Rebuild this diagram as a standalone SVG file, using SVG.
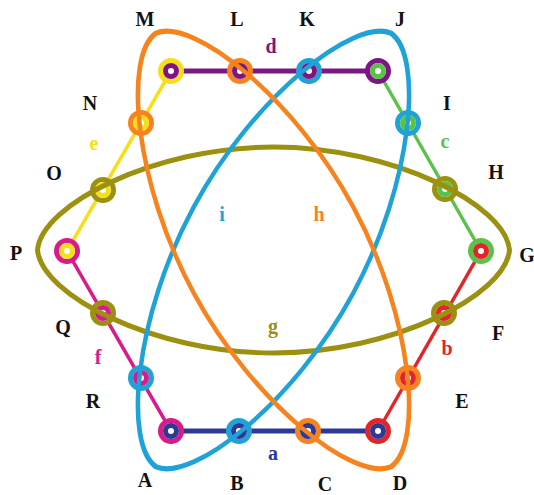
<svg xmlns="http://www.w3.org/2000/svg" width="534" height="495" viewBox="0 0 534 495">
<style>
.lbl{font-family:"Liberation Serif","Times New Roman",serif;font-weight:bold;font-size:20px;fill:#111;text-anchor:middle}
.el{font-family:"Liberation Serif","Times New Roman",serif;font-weight:bold;font-size:20px;text-anchor:middle}
.ov{fill:none;stroke-width:5}
.o{fill:#fff;stroke-width:5}
.i{fill:none;stroke-width:5}
.e{stroke-width:3.5;fill:none}
</style>
<defs>
<path id="lens" d="M -236,0 C -232,-45 -120,-103 0,-103 C 120,-103 232,-45 236,0 C 232,45 120,103 0,103 C -120,103 -232,45 -236,0 Z"/>
</defs>
<rect width="534" height="495" fill="#fff"/>
<g id="connectors">
<line x1="171" y1="431" x2="378" y2="431" stroke="#2e3896" stroke-width="5"/>
<line x1="378" y1="431" x2="481" y2="251" stroke="#e0262b" class="e"/>
<line x1="481" y1="251" x2="378" y2="71" stroke="#5cc14a" class="e"/>
<line x1="378" y1="71" x2="171" y2="71" stroke="#7d1582" stroke-width="5"/>
<line x1="171" y1="71" x2="67" y2="251" stroke="#f5df1c" class="e"/>
<line x1="67" y1="251" x2="171" y2="431" stroke="#d81b8c" class="e"/>
</g>
<g id="nodes">
<g id="A"><circle cx="171" cy="431" r="10.5" class="o" stroke="#d81b8c"/><circle cx="171" cy="431" r="5.5" class="i" stroke="#2e3896"/></g>
<g id="B"><circle cx="239" cy="431" r="10.5" class="o" stroke="#1fa3d6"/><circle cx="239" cy="431" r="5.5" class="i" stroke="#2e3896"/></g>
<g id="C"><circle cx="308" cy="431" r="10.5" class="o" stroke="#f7831e"/><circle cx="308" cy="431" r="5.5" class="i" stroke="#2e3896"/></g>
<g id="D"><circle cx="378" cy="431" r="10.5" class="o" stroke="#e0262b"/><circle cx="378" cy="431" r="5.5" class="i" stroke="#2e3896"/></g>
<g id="E"><circle cx="408" cy="378" r="10.5" class="o" stroke="#f7831e"/><circle cx="408" cy="378" r="5.5" class="i" stroke="#e0262b"/></g>
<g id="F"><circle cx="444" cy="313" r="10.5" class="o" stroke="#9c9010"/><circle cx="444" cy="313" r="5.5" class="i" stroke="#e0262b"/></g>
<g id="G"><circle cx="481" cy="251" r="10.5" class="o" stroke="#5cc14a"/><circle cx="481" cy="251" r="5.5" class="i" stroke="#e0262b"/></g>
<g id="H"><circle cx="445" cy="189" r="10.5" class="o" stroke="#9c9010"/><circle cx="445" cy="189" r="5.5" class="i" stroke="#5cc14a"/></g>
<g id="I"><circle cx="408" cy="123" r="10.5" class="o" stroke="#1fa3d6"/><circle cx="408" cy="123" r="5.5" class="i" stroke="#5cc14a"/></g>
<g id="J"><circle cx="378" cy="71" r="10.5" class="o" stroke="#7d1582"/><circle cx="378" cy="71" r="5.5" class="i" stroke="#5cc14a"/></g>
<g id="K"><circle cx="309" cy="71" r="10.5" class="o" stroke="#1fa3d6"/><circle cx="309" cy="71" r="5.5" class="i" stroke="#7d1582"/></g>
<g id="L"><circle cx="240" cy="71" r="10.5" class="o" stroke="#f7831e"/><circle cx="240" cy="71" r="5.5" class="i" stroke="#7d1582"/></g>
<g id="M"><circle cx="171" cy="71" r="10.5" class="o" stroke="#f5df1c"/><circle cx="171" cy="71" r="5.5" class="i" stroke="#7d1582"/></g>
<g id="N"><circle cx="141" cy="123" r="10.5" class="o" stroke="#f7831e"/><circle cx="141" cy="123" r="5.5" class="i" stroke="#f5df1c"/></g>
<g id="O"><circle cx="103" cy="190" r="10.5" class="o" stroke="#9c9010"/><circle cx="103" cy="190" r="5.5" class="i" stroke="#f5df1c"/></g>
<g id="P"><circle cx="67" cy="251" r="10.5" class="o" stroke="#d81b8c"/><circle cx="67" cy="251" r="5.5" class="i" stroke="#f5df1c"/></g>
<g id="Q"><circle cx="103" cy="313" r="10.5" class="o" stroke="#9c9010"/><circle cx="103" cy="313" r="5.5" class="i" stroke="#d81b8c"/></g>
<g id="R"><circle cx="141" cy="378" r="10.5" class="o" stroke="#1fa3d6"/><circle cx="141" cy="378" r="5.5" class="i" stroke="#d81b8c"/></g>
</g>
<g id="hyperedges">
<use href="#lens" class="ov" stroke="#9c9010" stroke-width="5.5" transform="translate(273.5,250)"/>
<use href="#lens" class="ov" stroke="#1fa3d6" transform="translate(273.5,250) rotate(-61.6) scale(1.045,0.88)"/>
<use href="#lens" class="ov" stroke="#f7831e" transform="translate(273.5,250) rotate(61.6) scale(1.045,0.88)"/>
</g>
<g id="vertex-labels">
<text class="lbl" x="145" y="26">M</text>
<text class="lbl" x="237" y="26">L</text>
<text class="lbl" x="307" y="26">K</text>
<text class="lbl" x="400" y="26">J</text>
<text class="lbl" x="447" y="110">I</text>
<text class="lbl" x="496" y="179">H</text>
<text class="lbl" x="527" y="262">G</text>
<text class="lbl" x="498" y="340">F</text>
<text class="lbl" x="462" y="408">E</text>
<text class="lbl" x="400" y="490">D</text>
<text class="lbl" x="325" y="491">C</text>
<text class="lbl" x="237" y="490">B</text>
<text class="lbl" x="145" y="487">A</text>
<text class="lbl" x="93" y="408">R</text>
<text class="lbl" x="63" y="334">Q</text>
<text class="lbl" x="16" y="260">P</text>
<text class="lbl" x="54" y="180">O</text>
<text class="lbl" x="90" y="110">N</text>
</g>
<g id="edge-labels">
<text class="el" x="271" y="53" fill="#7d1582">d</text>
<text class="el" x="445" y="148" fill="#5cc14a">c</text>
<text class="el" x="94" y="150" fill="#f5df1c">e</text>
<text class="el" x="222" y="221" fill="#1fa3d6">i</text>
<text class="el" x="319" y="221" fill="#f7831e">h</text>
<text class="el" x="273" y="333" fill="#9c9010">g</text>
<text class="el" x="447" y="355" fill="#e0262b">b</text>
<text class="el" x="98" y="364" fill="#d81b8c">f</text>
<text class="el" x="273" y="460" fill="#2e3896">a</text>
</g>
</svg>
